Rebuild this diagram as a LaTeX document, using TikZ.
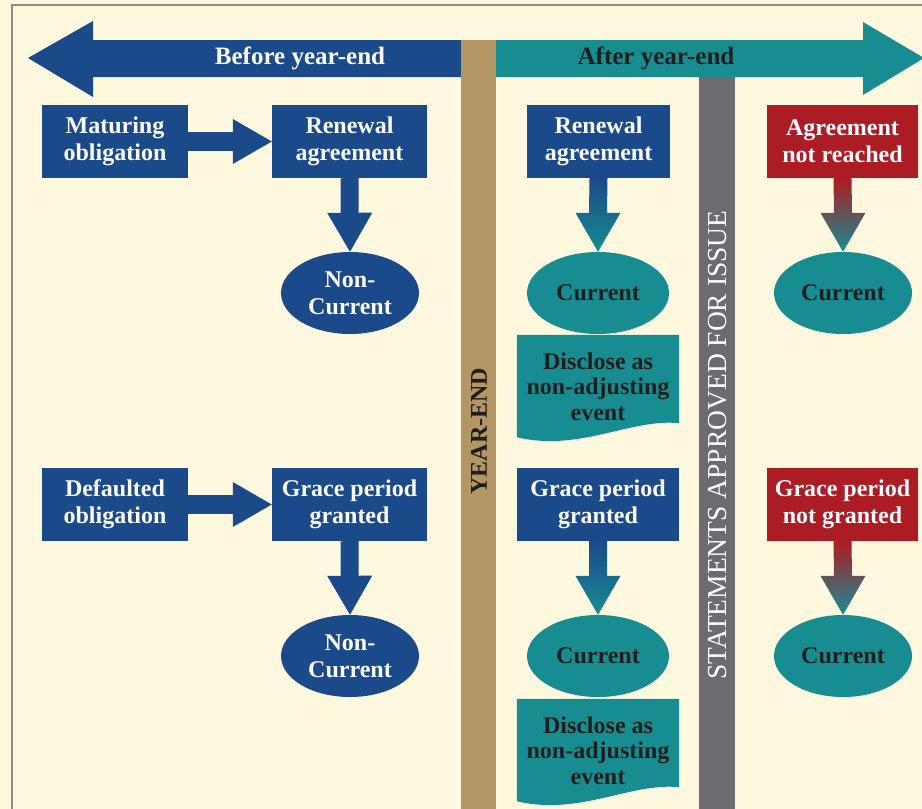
\documentclass[tikz,border=0pt]{standalone}
\usepackage{fontspec}
\setmainfont{Liberation Serif}
\usepackage{tikz}
\usetikzlibrary{calc,arrows.meta,shapes.geometric,backgrounds}
\usepackage{xcolor}
\definecolor{pagecream}{RGB}{254,248,223}
\definecolor{framegrey}{RGB}{150,140,125}
\definecolor{navyblue}{RGB}{27,74,138}
\definecolor{tealgreen}{RGB}{23,140,145}
\definecolor{deepred}{RGB}{172,28,36}
\definecolor{tanbar}{RGB}{178,150,100}
\definecolor{slatebar}{RGB}{108,108,112}
\definecolor{inkdark}{RGB}{30,30,30}

\begin{document}
\begin{tikzpicture}[x=1pt, y=-1pt,
    every node/.style={font=\bfseries\fontsize{24}{27}\selectfont, align=center, inner sep=0pt},
    bluebox/.style={rectangle, fill=navyblue, text=white, minimum height=73pt},
    redbox/.style={rectangle, fill=deepred, text=white, minimum height=73pt},
    blueoval/.style={ellipse, fill=navyblue, text=white, minimum width=138pt, minimum height=82pt},
    tealoval/.style={ellipse, fill=tealgreen, text=inkdark, minimum width=142pt, minimum height=82pt},
    doctext/.style={rectangle, text=inkdark, minimum width=162pt, minimum height=103pt,
      font=\bfseries\fontsize{24}{25.5}\selectfont},
    fatarrow/.style={navyblue, line width=19pt, -{Triangle[length=39pt,width=45pt,line width=0pt]}},
    fromblue/.style={top color=navyblue, bottom color=tealgreen},
    fromred/.style={top color=deepred, bottom color=tealgreen},
    banner/.style={font=\bfseries\fontsize{25}{27}\selectfont}]
      \useasboundingbox (0,0) rectangle (922,809);
      \clip (0,0) rectangle (922,809);
      \begin{scope}[on background layer]
        \fill[pagecream] (0,0) rectangle (922,809);
      \end{scope}
      \draw[framegrey, line width=2pt] (12,809) -- (12,5) -- (922,5);
      % timeline
      \fill[navyblue] (28,58) -- (93,21) -- (93,40) -- (462,40) -- (462,77) -- (93,77) -- (93,97) -- cycle;
      \fill[tealgreen] (496,40) -- (863,40) -- (863,22) -- (924,58) -- (863,95) -- (863,77) -- (496,77) -- cycle;
      \fill[tanbar] (461,40) rectangle (496,809);
      \fill[slatebar] (699,77) rectangle (735,809);
      \node[banner, text=white] (before) at (300,58) {Before year-end};
      \node[banner, text=inkdark] (after) at (656,58) {After year-end};
      \node[rotate=90, text=inkdark, font=\bfseries\fontsize{24}{26}\selectfont] (yearend) at (479,431) {YEAR-END};
      \node[rotate=90, text=white, font=\fontsize{27.5}{29}\selectfont] (approved) at (718,445) {STATEMENTS APPROVED FOR ISSUE};

      % maturing obligation
      \node[bluebox, minimum width=146pt] (maturing) at (115,141.5) {Maturing\\obligation};
      \node[bluebox, minimum width=155pt] (renewal) at (349.5,141.5) {Renewal\\agreement};
      \node[blueoval] (noncurrent) at (350,293) {Non-\\Current};
      \node[bluebox, minimum width=143pt] (renewallate) at (598.5,141.5) {Renewal\\agreement};
      \node[tealoval] (current) at (598,293) {Current};
      \node[doctext] (disclose) at (598,386.5) {Disclose as\\non-adjusting\\event};
      \node[redbox, minimum width=151pt] (noagreement) at (842.5,141.5) {Agreement\\not reached};
      \node[tealoval, minimum width=138pt] (currentlate) at (843,293) {Current};

      % defaulted obligation
      \node[bluebox, minimum width=146pt] (defaulted) at (115,504.5) {Defaulted\\obligation};
      \node[bluebox, minimum width=155pt] (grace) at (349.5,504.5) {Grace period\\granted};
      \node[blueoval] (noncurrenttwo) at (350,656) {Non-\\Current};
      \node[bluebox, minimum width=162pt] (gracelate) at (598,504.5) {Grace period\\granted};
      \node[tealoval] (currenttwo) at (598,656) {Current};
      \node[doctext] (disclosetwo) at (598,750.5) {Disclose as\\non-adjusting\\event};
      \node[redbox, minimum width=151pt] (nograce) at (842.5,504.5) {Grace period\\not granted};
      \node[tealoval, minimum width=138pt] (currentlatetwo) at (843,656) {Current};

      \begin{scope}[on background layer]
        \foreach \d in {disclose,disclosetwo} {
          \fill[tealgreen] (\d.north west) -- (\d.north east) -- ([yshift=15pt]\d.south east)
            .. controls ([xshift=-49pt,yshift=20pt]\d.south east) and ([xshift=63pt,yshift=-14pt]\d.south west)
            .. ([yshift=1pt]\d.south west) -- cycle;
        }
      \end{scope}

      \draw[fatarrow] (maturing.east) -- (renewal.west);
      \draw[fatarrow] (defaulted.east) -- (grace.west);
      \draw[fatarrow, line width=18pt] (renewal.south) -- (noncurrent.north);
      \draw[fatarrow, line width=18pt] (grace.south) -- (noncurrenttwo.north);
      \shade[fromblue] ($(renewallate.south)+(-9,0)$) -- ($(current.north)+(-9,-39)$) -- ($(current.north)+(-22.5,-39)$)
        -- (current.north) -- ($(current.north)+(22.5,-39)$) -- ($(current.north)+(9,-39)$) -- ($(renewallate.south)+(9,0)$) -- cycle;
      \shade[fromblue] ($(gracelate.south)+(-9,0)$) -- ($(currenttwo.north)+(-9,-39)$) -- ($(currenttwo.north)+(-22.5,-39)$)
        -- (currenttwo.north) -- ($(currenttwo.north)+(22.5,-39)$) -- ($(currenttwo.north)+(9,-39)$) -- ($(gracelate.south)+(9,0)$) -- cycle;
      \shade[fromred] ($(noagreement.south)+(-9,0)$) -- ($(currentlate.north)+(-9,-39)$) -- ($(currentlate.north)+(-22.5,-39)$)
        -- (currentlate.north) -- ($(currentlate.north)+(22.5,-39)$) -- ($(currentlate.north)+(9,-39)$) -- ($(noagreement.south)+(9,0)$) -- cycle;
      \shade[fromred] ($(nograce.south)+(-9,0)$) -- ($(currentlatetwo.north)+(-9,-39)$) -- ($(currentlatetwo.north)+(-22.5,-39)$)
        -- (currentlatetwo.north) -- ($(currentlatetwo.north)+(22.5,-39)$) -- ($(currentlatetwo.north)+(9,-39)$) -- ($(nograce.south)+(9,0)$) -- cycle;
    \end{tikzpicture}
\end{document}
